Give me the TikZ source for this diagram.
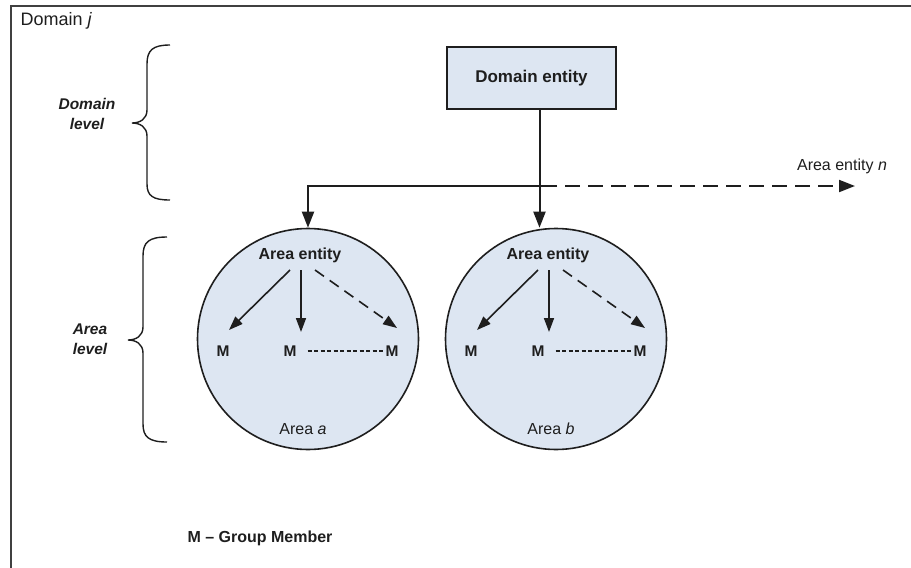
\documentclass[tikz,border=0pt]{standalone}
\usepackage{fontspec}
\setmainfont{Liberation Sans}
\usetikzlibrary{arrows.meta,calc}
\definecolor{fillblue}{RGB}{221,230,242}
\definecolor{ink}{RGB}{30,30,30}
\begin{document}
\begin{tikzpicture}[x=1pt,y=1pt,
 every node/.style={font=\fontsize{16}{18}\selectfont, text=ink},
 boldlbl/.style={font=\fontsize{15.5}{18}\selectfont\bfseries},
 lvl/.style={font=\fontsize{15.5}{20}\selectfont\bfseries\itshape, align=center},
 areacircle/.style={circle, draw=ink, line width=1.6pt, fill=fillblue, minimum size=221pt, inner sep=0pt},
 entitybox/.style={draw=ink, line width=1.6pt, fill=fillblue, minimum width=169pt, minimum height=62pt},
 arr/.style={draw=ink, line width=2pt, -{Triangle[length=16pt,width=12pt]}},
 marr/.style={draw=ink, line width=1.6pt, -{Triangle[length=14pt,width=10pt]}},
 longdash/.style={dash pattern=on 15pt off 8pt, dash phase=-8pt},
 mdash/.style={dash pattern=on 11pt off 7pt},
 dots/.style={draw=ink, line width=1.6pt, dash pattern=on 4pt off 2.5pt},
 member/.style={boldlbl, inner sep=1pt},
 bracepath/.style={draw=ink, line width=1.4pt},
 framestyle/.style={draw=ink!85, line width=2.5pt}
]
\useasboundingbox (0,0) rectangle (911,-568);
% outer frame (only top and left visible)
\draw[framestyle] (11,-568) -- (11,-6) -- (911,-6);
\node[anchor=west, font=\fontsize{18}{20}\selectfont] (dj) at (17,-21) {Domain \textit{j}};

% braces
\draw[bracepath] (170,-45) .. controls (153,-45) and (147,-50) .. (147,-64) -- (147,-110)
  .. controls (147,-119) and (140,-123) .. (132,-123)
  .. controls (140,-123) and (147,-127) .. (147,-136) -- (147,-184)
  .. controls (147,-196) and (153,-200) .. (170,-200);
\node[lvl] (dl) at (87,-114) {Domain\\level};
\draw[bracepath] (167,-237) .. controls (149,-237) and (143,-242) .. (143,-256) -- (143,-327)
  .. controls (143,-336) and (136,-340) .. (128,-340)
  .. controls (136,-340) and (143,-344) .. (143,-353) -- (143,-424)
  .. controls (143,-437) and (149,-442) .. (167,-442);
\node[lvl] (al) at (90,-339) {Area\\level};

% domain entity
\node[entitybox, boldlbl, font=\fontsize{17}{20}\selectfont\bfseries] (de) at (531.5,-78) {Domain entity};

% areas
\foreach \n/\dx in {a/0,b/248}{
  \node[areacircle] (c\n) at (308+\dx,-339) {};
  \node[boldlbl, font=\fontsize{16}{18}\selectfont\bfseries] (ae\n) at (300+\dx,-255) {Area entity};
  \node[member] (m1\n) at (223+\dx,-351) {M};
  \node[member] (m2\n) at (290+\dx,-351) {M};
  \node[member] (m3\n) at (392+\dx,-351) {M};
  \node (lbl\n) at (303+\dx,-429) {Area \textit{\n}};
  \draw[marr] ($(ae\n.center)+(-10,-15)$) -- ($(m1\n.center)+(6,21)$);
  \draw[marr] ($(ae\n.center)+(1,-15)$) -- ($(m2\n.center)+(11,19)$);
  \draw[marr, mdash] ($(ae\n.center)+(15,-15)$) -- ($(m3\n.center)+(5,23)$);
  \draw[dots] ([xshift=10pt]m2\n.east) -- (m3\n.west);
}

% domain-level connectors
\coordinate (split) at (557,-186);
\coordinate (an) at (855,-186);
\draw[arr] ([xshift=8pt]de.south) -- ([xshift=8pt]de.south |- cb.north);
\draw[arr] (split) -- (split -| ca.north) -- (ca.north);
\draw[arr, longdash] (split) -- (an);
\node (aen) at (842,-166) {Area entity \textit{n}};

% legend
\node[boldlbl, anchor=west, font=\fontsize{16}{18}\selectfont\bfseries] (legend) at (184,-538) {M \textendash{} Group Member};
\end{tikzpicture}
\end{document}
